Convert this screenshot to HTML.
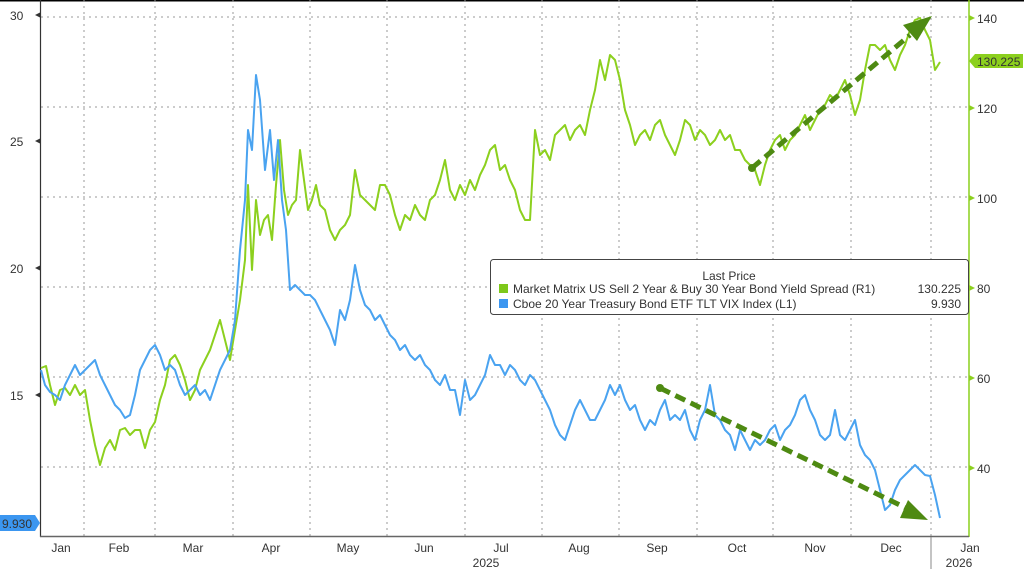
<!DOCTYPE html>
<html><head><style>
body{margin:0;background:#fff;width:1024px;height:569px;overflow:hidden;font-family:"Liberation Sans",sans-serif}
svg text{font-family:"Liberation Sans",sans-serif;font-size:12px;fill:#333}
</style></head><body>
<svg width="1024" height="569" viewBox="0 0 1024 569">
<rect x="0" y="0" width="1024" height="1.5" fill="#000"/>
<g stroke="#999" stroke-dasharray="2,4" stroke-width="1">
<line x1="41" x2="968" y1="17" y2="17"/><line x1="41" x2="968" y1="107" y2="107"/>
<line x1="41" x2="968" y1="197" y2="197"/><line x1="41" x2="968" y1="287" y2="287"/>
<line x1="41" x2="968" y1="377" y2="377"/><line x1="41" x2="968" y1="467" y2="467"/>
<line x1="84" x2="84" y1="0" y2="536"/><line x1="155" x2="155" y1="0" y2="536"/>
<line x1="233" x2="233" y1="0" y2="536"/><line x1="310" x2="310" y1="0" y2="536"/>
<line x1="387" x2="387" y1="0" y2="536"/><line x1="465" x2="465" y1="0" y2="536"/>
<line x1="542" x2="542" y1="0" y2="536"/><line x1="619" x2="619" y1="0" y2="536"/>
<line x1="697" x2="697" y1="0" y2="536"/><line x1="773" x2="773" y1="0" y2="536"/>
<line x1="851" x2="851" y1="0" y2="536"/><line x1="931" x2="931" y1="0" y2="536"/>
</g>
<line x1="40.5" x2="40.5" y1="0" y2="537" stroke="#333" stroke-width="1.2"/>
<line x1="969" x2="969" y1="0" y2="537" stroke="#8cd01e" stroke-width="1.5"/>
<line x1="40" x2="969" y1="536.5" y2="536.5" stroke="#666" stroke-width="1.5"/>
<line x1="931" x2="931" y1="537" y2="569" stroke="#888"/>
<g fill="#333"><path d="M35 15l6-3v6z"/><path d="M35 141l6-3v6z"/><path d="M35 268l6-3v6z"/><path d="M35 395l6-3v6z"/></g>
<g font-size="13"><text x="10" y="20" font-size="13">30</text><text x="10" y="146" font-size="13">25</text><text x="10" y="273" font-size="13">20</text><text x="10" y="400" font-size="13">15</text></g>
<g fill="#8cd01e"><path d="M975 18l-6-3v6z"/><path d="M975 108l-6-3v6z"/><path d="M975 198l-6-3v6z"/><path d="M975 288l-6-3v6z"/><path d="M975 378l-6-3v6z"/><path d="M975 468l-6-3v6z"/></g>
<text x="977" y="23" font-size="13">140</text><text x="977" y="113" font-size="13">120</text><text x="977" y="203" font-size="13">100</text><text x="977" y="293" font-size="13">80</text><text x="977" y="383" font-size="13">60</text><text x="977" y="473" font-size="13">40</text>
<path d="M969 61l6-7h48v14h-48z" fill="#8cd01e"/><text x="977" y="66" font-size="13" fill="#1a3300">130.225</text>
<path d="M0 515h35l5 8-5 8h-35z" fill="#3b96f0"/><text x="2" y="528" font-size="12" fill="#002244">9.930</text>
<g font-size="12" text-anchor="middle"><text x="61" y="552">Jan</text><text x="119" y="552">Feb</text><text x="193" y="552">Mar</text><text x="271" y="552">Apr</text><text x="348" y="552">May</text><text x="424" y="552">Jun</text><text x="501" y="552">Jul</text><text x="579" y="552">Aug</text><text x="657" y="552">Sep</text><text x="737" y="552">Oct</text><text x="815" y="552">Nov</text><text x="891" y="552">Dec</text><text x="970" y="552">Jan</text><text x="486" y="567">2025</text><text x="959" y="567">2026</text></g>
<polyline fill="none" stroke="#8cd01e" stroke-width="2" stroke-linejoin="round" points="41,368 46,366 50,385 55,405 60,390 65,388 70,395 75,385 80,395 85,390 90,420 95,445 100,465 105,448 110,440 115,450 120,430 125,428 130,435 135,430 140,430 145,448 150,430 155,422 160,400 165,385 170,360 175,355 180,365 185,380 190,400 195,390 200,370 205,360 210,350 215,335 220,320 225,340 230,360 235,330 240,300 245,260 248,185 252,270 256,200 260,235 264,220 268,215 272,240 276,185 280,140 284,190 288,215 292,205 296,200 300,150 304,180 308,210 312,200 316,185 320,205 325,210 330,230 335,240 340,230 345,225 350,215 355,170 360,195 365,200 370,205 375,210 380,185 385,185 390,195 395,215 400,230 405,215 410,220 415,205 420,215 425,220 430,200 435,195 440,180 445,160 450,190 455,200 460,185 465,195 470,180 475,190 480,175 485,165 490,150 495,145 500,170 505,165 510,180 515,190 520,210 525,220 530,220 535,130 540,155 545,150 550,160 555,135 560,130 565,125 570,140 575,130 580,125 585,135 590,110 595,90 600,60 605,80 610,55 615,60 620,80 625,110 630,125 635,145 640,135 645,130 650,140 655,125 660,120 665,135 670,145 675,155 680,140 685,120 690,125 695,140 700,130 705,135 710,145 715,140 720,130 725,140 730,135 735,150 740,150 745,160 750,165 755,170 760,185 765,165 770,150 775,140 780,135 785,150 790,140 795,135 800,125 805,115 810,130 815,120 820,110 825,105 830,95 835,100 840,90 845,80 850,95 855,115 860,100 865,70 870,45 875,45 880,50 885,45 890,60 895,70 900,55 905,45 910,30 915,20 920,18 925,30 930,40 935,70 940,62"/>
<polyline fill="none" stroke="#4aa3f0" stroke-width="2" stroke-linejoin="round" points="41,370 45,385 50,392 55,395 60,400 65,385 70,375 75,365 80,375 85,370 90,365 95,360 100,375 105,385 110,395 115,405 120,410 125,418 130,415 135,395 140,370 145,360 150,350 155,345 160,355 165,370 170,365 175,370 180,385 185,395 190,390 195,385 200,395 205,390 210,400 215,385 220,370 225,360 230,350 235,320 240,250 245,200 248,130 252,150 256,75 260,100 265,170 270,130 274,180 278,140 282,200 286,230 290,290 295,285 300,290 305,295 310,295 315,300 320,310 325,320 330,330 335,345 340,310 345,320 350,300 355,265 360,290 365,305 370,310 375,320 380,315 385,325 390,335 395,340 400,350 405,345 410,355 415,360 420,355 425,365 430,370 435,380 440,385 445,375 450,390 455,390 460,415 465,380 470,400 475,395 480,385 485,375 490,355 495,365 500,365 505,375 510,365 515,370 520,380 525,385 530,375 535,380 540,390 545,400 550,410 555,425 560,435 565,440 570,425 575,410 580,400 585,410 590,420 595,420 600,410 605,400 610,385 615,395 620,385 625,400 630,410 635,405 640,420 645,430 650,420 655,425 660,410 665,400 670,420 675,415 680,420 685,410 690,430 695,440 700,420 705,410 710,385 715,415 720,420 725,430 730,435 735,450 740,430 745,440 750,450 755,440 760,445 765,440 770,430 775,425 780,440 785,430 790,425 795,415 800,400 805,395 810,410 815,420 820,435 825,440 830,435 835,410 840,435 845,440 850,430 855,420 860,445 865,455 870,460 875,470 880,490 885,510 890,505 895,490 900,480 905,475 910,470 915,465 920,470 925,475 930,476 935,495 940,518"/>
<g stroke="#4e8a12" stroke-width="5" stroke-dasharray="11,6" fill="none">
<line x1="752" y1="168" x2="910" y2="35"/><line x1="660" y1="388" x2="910" y2="510"/></g>
<g fill="#4e8a12"><circle cx="752" cy="168" r="4"/><circle cx="660" cy="388" r="4"/>
<path d="M932 16l-29 9 14 16z"/><path d="M928 520l-28-2 8-18z"/></g>
<rect x="490.5" y="259.5" width="478" height="55" rx="3" fill="#fff" stroke="#444"/>
<text x="729" y="280" text-anchor="middle" font-size="12.5">Last Price</text>
<rect x="499" y="284" width="9" height="9" fill="#7ec81a"/><rect x="499" y="299" width="9" height="9" fill="#3b96f0"/>
<text x="513" y="293" font-size="12.5">Market Matrix US Sell 2 Year &amp; Buy 30 Year Bond Yield Spread  (R1)</text>
<text x="961" y="293" font-size="12.5" text-anchor="end">130.225</text>
<text x="513" y="308" font-size="12.5">Cboe 20 Year Treasury Bond ETF TLT VIX Index  (L1)</text>
<text x="961" y="308" font-size="12.5" text-anchor="end">9.930</text>
</svg>
</body></html>
